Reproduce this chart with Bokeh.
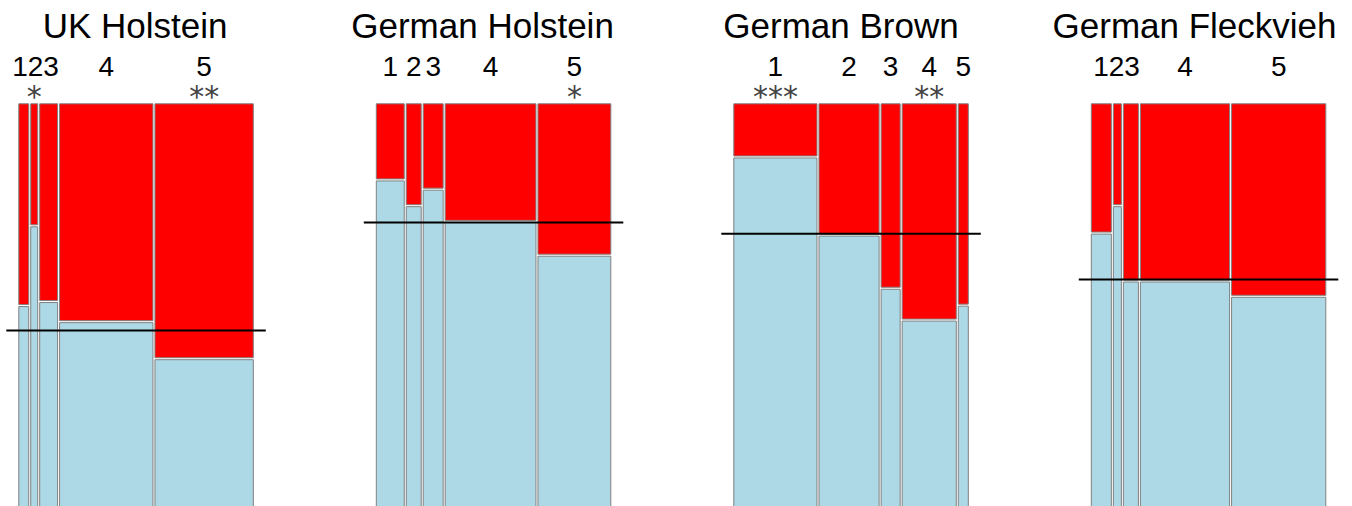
from bokeh.plotting import figure
from bokeh.models import Range1d, ColumnDataSource
from bokeh.core.properties import value
from bokeh.embed import file_html
from bokeh.resources import INLINE

# ---------------- data ----------------
breeds = ["UK Holstein", "German Holstein", "German Brown", "German Fleckvieh"]
categories = ["1", "2", "3", "4", "5"]

# relative group sizes (bar widths)
uk_n = [10, 7, 18, 94, 99]
gh_n = [28, 15, 20, 91, 73]
gb_n = [83, 60, 19, 54, 10]
gf_n = [20, 8, 15, 89, 94]

# proportion in the light-blue (lower) class per group
uk_blue = [0.499, 0.697, 0.509, 0.459, 0.367]
gh_blue = [0.811, 0.747, 0.788, 0.708, 0.624]
gb_blue = [0.868, 0.674, 0.542, 0.463, 0.500]
gf_blue = [0.679, 0.747, 0.560, 0.560, 0.522]

# overall proportion (horizontal reference line)
overall_blue = [0.437, 0.705, 0.677, 0.564]

# significance marks
uk_stars = ["", "*", "", "", "**"]
gh_stars = ["", "", "", "", "*"]
gb_stars = ["***", "", "", "**", ""]
gf_stars = ["", "", "", "", ""]

panels_n = [uk_n, gh_n, gb_n, gf_n]
panels_blue = [uk_blue, gh_blue, gb_blue, gf_blue]
panels_stars = [uk_stars, gh_stars, gb_stars, gf_stars]

# ---------------- layout / style ----------------
W, H = 1352, 506
MARGIN = 0
BAR_TOP_PX = 103.3
BAR_BOTTOM_PX = 506.0
UNIT = BAR_BOTTOM_PX - BAR_TOP_PX


def sy(y_screen):
    return (BAR_BOTTOM_PX - y_screen) / UNIT


def sx(x_screen):
    return x_screen - MARGIN


PANEL_LEFT0 = 18.3
PANEL_STEP = 357.5
PANEL_SPAN = 234.5
GAP = 2.0
LINE_EXT = 12.5
TITLE_DX = [-1, -11, -10, -14]
RED = "#FF0000"
BLUE = "#ADD8E6"
EDGE = "#808080"
FONT = "Liberation Sans"
DIGIT_SEP = 15.6

p = figure(width=W, height=H, output_backend="svg", toolbar_location=None,
           x_range=Range1d(0, W), y_range=Range1d(sy(MARGIN + H), sy(MARGIN)),
           min_border=0)
p.axis.visible = False
p.grid.visible = False
p.outline_line_color = None
p.background_fill_color = "white"
p.border_fill_color = "white"

gy = GAP / UNIT

red = dict(left=[], right=[], bottom=[], top=[])
blue = dict(left=[], right=[], bottom=[], top=[])
lines = dict(x0=[], x1=[], y=[])
labels = dict(x=[], text=[])
stars = dict(x=[], text=[])
titles = dict(x=[], text=[])

for i, (n, b, st) in enumerate(zip(panels_n, panels_blue, panels_stars)):
    left = sx(PANEL_LEFT0 + i * PANEL_STEP)
    avail = PANEL_SPAN - GAP * (len(n) - 1)
    total = float(sum(n))
    x = left
    centers = []
    for cnt, frac, s in zip(n, b, st):
        w = avail * cnt / total
        red["left"].append(x); red["right"].append(x + w)
        red["bottom"].append(frac + gy / 2); red["top"].append(1.0)
        blue["left"].append(x); blue["right"].append(x + w)
        blue["bottom"].append(-0.1); blue["top"].append(frac - gy / 2)
        centers.append(x + w / 2)
        if s:
            stars["x"].append(x + w / 2); stars["text"].append(s)
        x += w + GAP
    # spread overlapping category labels
    lab = list(centers)
    for _ in range(50):
        for k in range(1, len(lab)):
            d = lab[k] - lab[k - 1]
            if d < DIGIT_SEP:
                sh = (DIGIT_SEP - d) / 2
                lab[k - 1] -= sh
                lab[k] += sh
    for c, t in zip(lab, categories):
        labels["x"].append(c); labels["text"].append(t)
    lines["x0"].append(left - LINE_EXT)
    lines["x1"].append(left + PANEL_SPAN + LINE_EXT)
    lines["y"].append(overall_blue[i])
    titles["x"].append(left + PANEL_SPAN / 2 + TITLE_DX[i])
    titles["text"].append(breeds[i])

p.quad(source=ColumnDataSource(blue), left="left", right="right", bottom="bottom", top="top",
       fill_color=BLUE, line_color=EDGE, line_width=1)
p.quad(source=ColumnDataSource(red), left="left", right="right", bottom="bottom", top="top",
       fill_color=RED, line_color=EDGE, line_width=1)
p.segment(source=ColumnDataSource(lines), x0="x0", x1="x1", y0="y", y1="y",
          line_color="black", line_width=2)

p.text(source=ColumnDataSource(titles), x="x", y=sy(25), text="text",
       text_font=value(FONT), text_font_size="35px", text_align="center",
       text_baseline="alphabetic", text_color="black")
p.text(source=ColumnDataSource(labels), x="x", y=sy(66), text="text",
       text_font=value(FONT), text_font_size="28px", text_align="center",
       text_baseline="alphabetic", text_color="black")
p.text(source=ColumnDataSource(stars), x="x", y=sy(95.5), text="text",
       text_font=value("DejaVu Sans"), text_font_size="30px", text_align="center",
       text_baseline="alphabetic", text_color="#444444")

open("out.html", "w").write(file_html(p, INLINE))
